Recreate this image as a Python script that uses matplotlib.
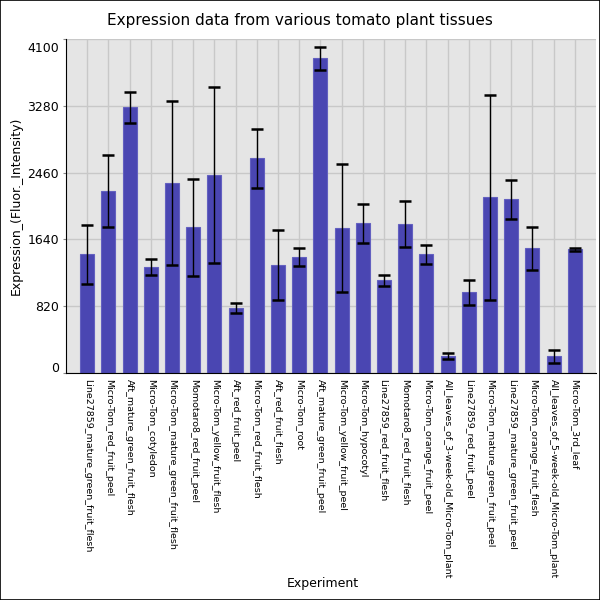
import matplotlib
matplotlib.use("Agg")
import matplotlib.pyplot as plt
import matplotlib.transforms as mtransforms
import numpy as np

categories = [
    "Line27859_mature_green_fruit_flesh",
    "Micro-Tom_red_fruit_peel",
    "Aft_mature_green_fruit_flesh",
    "Micro-Tom_cotyledon",
    "Micro-Tom_mature_green_fruit_flesh",
    "Momotaro8_red_fruit_peel",
    "Micro-Tom_yellow_fruit_flesh",
    "Aft_red_fruit_peel",
    "Micro-Tom_red_fruit_flesh",
    "Aft_red_fruit_flesh",
    "Micro-Tom_root",
    "Aft_mature_green_fruit_peel",
    "Micro-Tom_yellow_fruit_peel",
    "Micro-Tom_hypocotyl",
    "Line27859_red_fruit_flesh",
    "Momotaro8_red_fruit_flesh",
    "Micro-Tom_orange_fruit_peel",
    "All_leaves_of_3-week-old_Micro-Tom_plant",
    "Line27859_red_fruit_peel",
    "Micro-Tom_mature_green_fruit_peel",
    "Line27859_mature_green_fruit_peel",
    "Micro-Tom_orange_fruit_flesh",
    "All_leaves_of_5-week-old_Micro-Tom_plant",
    "Micro-Tom_3rd_leaf",
]
values = [1457, 2231, 3263, 1298, 2330, 1789, 2428, 794, 2637, 1322, 1421, 3865,
          1777, 1838, 1138, 1826, 1457, 205, 991, 2158, 2133, 1531, 205, 1519]
errors = [365, 440, 190, 100, 1010, 595, 1080, 60, 360, 428, 110, 141,
          786, 237, 68, 280, 115, 36, 156, 1257, 240, 266, 78, 20]
yticks = [0, 820, 1640, 2460, 3280, 4100]

fig = plt.figure(figsize=(6, 6), dpi=100)
ax = fig.add_axes([66/600, 1-373/600, 530/600, 334/600])
ax.set_facecolor("#e5e5e5")
x = np.arange(len(categories))
ax.bar(x, values, width=0.66, color="#4a46b2", edgecolor="#6360c0", linewidth=0.8, zorder=2)
ax.errorbar(x, values, yerr=errors, fmt="none", ecolor="black", elinewidth=1.0,
            capsize=4.6, capthick=1.8, zorder=3)
ax.set_xlim(-1, 24)
ax.set_ylim(0, 4100)
ax.set_yticks(yticks)
ax.set_yticklabels([str(v) for v in yticks], fontsize=9)
ax.set_xticks(x)
ax.set_xticklabels(categories, rotation=270, fontsize=6.8, va="top", ha="center")
ax.tick_params(axis="x", length=0, pad=4)
ax.tick_params(axis="y", length=2, pad=3, color="#888888")
ax.grid(True, color="#c8c8c8", linewidth=1.0, zorder=0)
ax.set_axisbelow(True)
for s in ["top", "right"]:
    ax.spines[s].set_visible(False)
ax.spines["left"].set_color("black")
ax.spines["bottom"].set_color("black")

fig.canvas.draw()
ylabels = ax.get_yticklabels()
ylabels[0].set_transform(ylabels[0].get_transform() +
                         mtransforms.ScaledTranslation(0, 6/100, fig.dpi_scale_trans))
ylabels[-1].set_transform(ylabels[-1].get_transform() +
                          mtransforms.ScaledTranslation(0, -8.5/100, fig.dpi_scale_trans))

ax.set_ylabel("Expression_(Fluor._Intensity)", fontsize=9, labelpad=3)
ax.set_xlabel("Experiment", fontsize=9, va="center")
ax.xaxis.set_label_coords(0.485, (373-584)/334)
fig.text(0.5, 1-20/600, "Expression data from various tomato plant tissues", fontsize=11,
         ha="center", va="center")
fig.patches.append(plt.Rectangle((0, 0), 1, 1, transform=fig.transFigure, fill=False,
                                 edgecolor="black", linewidth=1.2))
fig.savefig("out.png", dpi=100)
